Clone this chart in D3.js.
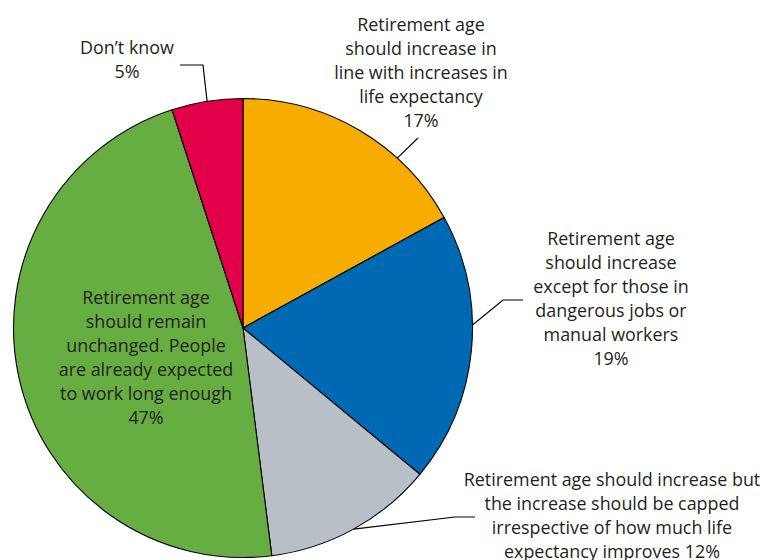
<!DOCTYPE html>
<html><head><meta charset="utf-8">
<script src="https://cdn.jsdelivr.net/npm/d3@7"></script>
<style>body{margin:0;background:#fff}svg{display:block}</style>
</head><body>
<svg id="c" width="764" height="560"></svg>
<script>
const categories = [
  "Retirement age should increase in line with increases in life expectancy",
  "Retirement age should increase except for those in dangerous jobs or manual workers",
  "Retirement age should increase but the increase should be capped irrespective of how much life expectancy improves",
  "Retirement age should remain unchanged. People are already expected to work long enough",
  "Don\u2019t know"
];
const values = [17, 19, 12, 47, 5];
const colors = ["#f7ac00", "#0069b4", "#b9bfc6", "#67ae42", "#e2004b"];
const labelLines = [
  ["Retirement age", "should increase in", "line with increases in", "life expectancy", "17%"],
  ["Retirement age", "should increase", "except for those in", "dangerous jobs or", "manual workers", "19%"],
  ["Retirement age should increase but", "the increase should be capped", "irrespective of how much life", "expectancy improves 12%"],
  ["Retirement age", "should remain", "unchanged. People", "are already expected", "to work long enough", "47%"],
  ["Don\u2019t know", "5%"]
];

const W = 764, H = 560, cx = 243, cy = 328, R = 229.5;
const svg = d3.select("#c");
const g = svg.append("g").attr("transform", `translate(${cx},${cy})`);
const pie = d3.pie().sort(null).value(d => d);
const arcs = pie(values);
const arc = d3.arc().innerRadius(0).outerRadius(R);

g.selectAll("path").data(arcs).join("path")
  .attr("d", arc)
  .attr("fill", (d, i) => colors[i])
  .attr("stroke", "#000").attr("stroke-width", 1.1).attr("stroke-linejoin", "round");

// label layout: [centerX, firstLineY] in page coords, line spacing 24
const labelPos = [[421, 25], [611, 239], [612, 480], [146, 298], [127, 48]];
// leader anchors: fraction along slice, elbow point, end point
const leaders = [
  {slice: 0, frac: 0.69, elbow: [418, 138], end: null},
  {slice: 1, frac: 0.41, elbow: [503, 300], end: [523, 300]},
  {slice: 2, frac: 0.5, elbow: [455, 517], end: [475, 517]},
  {slice: 4, frac: 0.5, elbow: [203, 65], end: [180, 65]}
];
leaders.forEach(L => {
  const a = arcs[L.slice];
  const ang = a.startAngle + (a.endAngle - a.startAngle) * L.frac;
  const p0 = [cx + R * Math.sin(ang), cy - R * Math.cos(ang)];
  const pts = [p0, L.elbow];
  if (L.end) pts.push(L.end);
  svg.append("path").attr("d", d3.line()(pts))
    .attr("fill", "none").attr("stroke", "#000").attr("stroke-width", 1.2);
});

labelLines.forEach((lines, i) => {
  const t = svg.append("text")
    .attr("text-anchor", "middle")
    .attr("font-family", "'Open Sans', sans-serif")
    .attr("font-size", 17.9)
    .attr("fill", "#231f20");
  lines.forEach((ln, j) => {
    t.append("tspan").attr("x", labelPos[i][0]).attr("y", labelPos[i][1] + j * 24)
      .attr("dy", "0.35em").text(ln);
  });
});
</script>
</body></html>
